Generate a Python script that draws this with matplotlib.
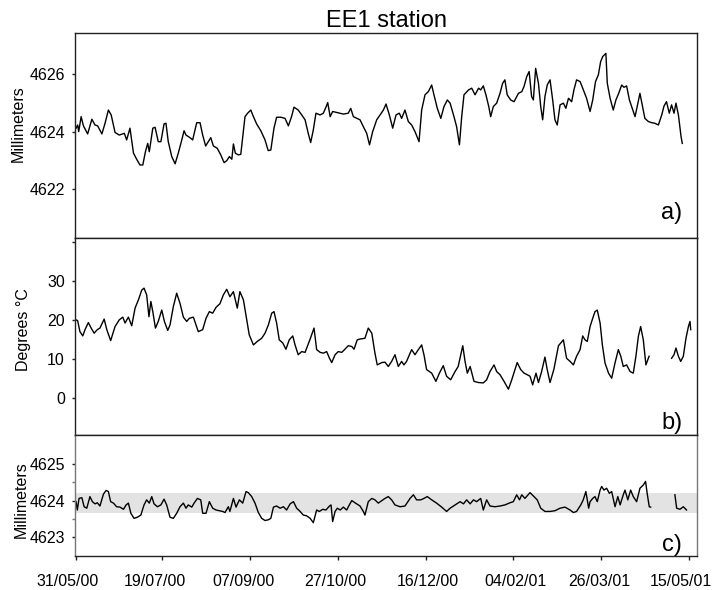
# EE1 station: three stacked panels sharing the date axis
from datetime import datetime

import numpy as np
import matplotlib
matplotlib.use('Agg')
import matplotlib.pyplot as plt
import matplotlib.transforms as mtransforms

plt.rcParams['font.family'] = ['Liberation Sans', 'DejaVu Sans']

# x tick labels (dd/mm/yy), data x values are days after the first label
date_labels = ['31/05/00', '19/07/00', '07/09/00', '27/10/00',
               '16/12/00', '04/02/01', '26/03/01', '15/05/01']

# a) position (mm)
a_day = [0, 0.9, 1.5, 2.9, 4.2, 6.6, 9.0, 10.8, 12.3, 14.7,
         16.5, 18.4, 20.0, 22.2, 24.6, 27.5, 28.8, 30.7, 32.7, 34.5,
         36.4, 38.0, 39.5, 40.8, 41.7, 43.7, 45.0, 46.8, 48.3, 50.1,
         51.2, 52.5, 54.5, 56.4, 58.2, 60.2, 61.5, 62.6, 63.9, 65.3,
         66.4, 68.7, 70.6, 72.1, 73.8, 75.3, 76.7, 78.2, 80.4, 82.4,
         84.3, 85.8, 87.3, 88.7, 89.6, 90.7, 92.4, 93.8, 96.2, 97.7,
         99.5, 101.0, 102.8, 105.2, 107.6, 109.4, 110.9, 112.7, 114.2, 116.6,
         119.0, 120.9, 122.8, 124.1, 126.5, 128.5, 130.4, 132.2, 133.6, 135.1,
         136.6, 139.0, 140.8, 142.3, 143.3, 144.7, 146.1, 148.8, 152.2, 155.0,
         156.4, 157.9, 161.7, 163.6, 165.5, 167.1, 168.9, 171.2, 173.1, 175.0,
         176.5, 178.4, 180.3, 182.2, 184.1, 185.4, 187.3, 189.2, 191.1, 193.0,
         195.3, 196.8, 198.7, 200.6, 202.5, 203.8, 205.7, 207.7, 209.5, 211.4,
         213.0, 215.2, 216.7, 218.3, 219.6, 220.9, 223.5, 225.3, 227.2, 229.2,
         230.4, 231.9, 233.4, 235.0, 236.1, 237.6, 239.5, 241.4, 242.9, 244.2,
         245.5, 247.5, 249.4, 251.9, 253.8, 255.1, 256.6, 258.0, 259.4, 260.4,
         261.7, 263.3, 264.6, 265.7, 267.0, 268.3, 269.9, 271.4, 272.7, 274.0,
         275.6, 277.5, 278.9, 280.4, 282.2, 283.5, 285.0, 287.0, 288.5, 290.7,
         292.7, 294.2, 295.8, 297.4, 298.7, 299.9, 301.7, 302.5, 304.1, 305.9,
         307.4, 309.0, 310.7, 312.0, 313.5, 315.1, 317.0, 318.3, 319.6, 321.1,
         322.6, 323.9, 325.9, 327.8, 329.6, 331.6, 333.5, 334.8, 336.2, 337.8,
         339.1, 340.5, 341.6, 343.0, 344.5, 345.2]
a_mm = [4624.12, 4624.23, 4624.00, 4624.52, 4624.20, 4623.92, 4624.43, 4624.23, 4624.20, 4623.92,
        4624.29, 4624.75, 4624.58, 4623.97, 4623.88, 4623.94, 4623.71, 4624.12, 4623.25, 4623.04,
        4622.84, 4622.84, 4623.30, 4623.59, 4623.30, 4624.12, 4624.15, 4623.65, 4623.65, 4624.27,
        4624.29, 4623.65, 4623.13, 4622.88, 4623.25, 4623.71, 4624.03, 4623.88, 4623.83, 4623.77,
        4623.71, 4624.31, 4624.31, 4623.88, 4623.50, 4623.65, 4623.79, 4623.50, 4623.42, 4623.19,
        4622.92, 4622.99, 4623.13, 4623.04, 4623.57, 4623.25, 4623.19, 4623.21, 4624.52, 4624.64,
        4624.75, 4624.52, 4624.27, 4624.03, 4623.71, 4623.34, 4623.36, 4624.12, 4624.50, 4624.50,
        4624.46, 4624.20, 4624.54, 4624.85, 4624.75, 4624.58, 4624.41, 4623.94, 4623.62, 4624.06,
        4624.64, 4624.58, 4624.64, 4624.85, 4625.01, 4624.52, 4624.70, 4624.66, 4624.61, 4624.64,
        4624.81, 4624.52, 4624.41, 4624.17, 4623.94, 4623.54, 4624.00, 4624.41, 4624.58, 4624.75,
        4624.96, 4624.58, 4624.12, 4624.58, 4624.64, 4624.46, 4624.75, 4624.35, 4624.23, 4624.00,
        4623.65, 4624.75, 4625.28, 4625.39, 4625.62, 4625.28, 4624.81, 4624.46, 4624.87, 4625.10,
        4624.99, 4624.52, 4624.17, 4623.54, 4624.52, 4625.28, 4625.45, 4625.51, 4625.28, 4625.51,
        4625.45, 4625.59, 4625.28, 4624.87, 4624.52, 4624.87, 4624.99, 4625.33, 4625.68, 4625.80,
        4625.28, 4625.10, 4625.04, 4625.33, 4625.39, 4625.57, 4625.91, 4626.09, 4625.22, 4625.10,
        4626.20, 4625.68, 4624.87, 4624.41, 4625.22, 4625.62, 4625.80, 4625.10, 4624.41, 4624.23,
        4624.93, 4624.99, 4624.81, 4625.16, 4625.04, 4625.45, 4625.80, 4625.74, 4625.51, 4625.16,
        4624.70, 4625.10, 4625.74, 4625.97, 4626.43, 4626.61, 4626.72, 4625.68, 4625.16, 4624.75,
        4625.10, 4625.33, 4625.62, 4625.54, 4625.59, 4625.10, 4624.75, 4624.52, 4624.89, 4625.33,
        4624.87, 4624.46, 4624.35, 4624.31, 4624.29, 4624.23, 4624.58, 4624.89, 4625.04, 4624.64,
        4624.93, 4624.64, 4624.99, 4624.58, 4623.83, 4623.59]

# b) temperature (deg C), nan = missing record
b_day = [0, 0.9, 2.2, 3.8, 5.1, 7.0, 8.6, 10.3, 12.1, 13.6,
         16.0, 17.5, 19.7, 22.2, 24.6, 26.6, 27.9, 29.8, 31.7, 33.6,
         35.5, 37.4, 38.7, 40.2, 41.5, 42.6, 43.7, 45.2, 46.8, 48.8,
         50.3, 52.2, 53.5, 55.4, 57.3, 59.2, 61.1, 63.0, 64.5, 66.8,
         68.3, 69.6, 72.1, 74.0, 75.9, 77.8, 79.7, 81.9, 83.9, 85.8,
         87.6, 89.6, 90.5, 91.8, 93.3, 95.3, 97.2, 98.6, 101.0, 103.2,
         105.7, 107.6, 109.5, 111.4, 112.7, 114.2, 115.7, 117.7, 119.5, 121.4,
         123.4, 124.7, 126.5, 128.5, 130.4, 133.3, 135.5, 137.0, 139.0, 140.8,
         142.7, 144.3, 145.6, 147.5, 149.3, 151.3, 153.1, 155.0, 157.0, 158.3,
         160.1, 161.7, 164.5, 166.4, 168.4, 170.2, 171.5, 174.1, 175.9, 177.8,
         179.7, 181.6, 183.5, 185.4, 186.7, 188.2, 190.2, 191.1, 193.0, 194.9,
         196.8, 198.1, 199.6, 202.5, 204.9, 206.9, 209.1, 211.0, 213.3, 215.8,
         217.6, 220.2, 221.5, 222.8, 224.4, 226.6, 229.1, 231.9, 233.8, 235.7,
         238.0, 239.5, 241.4, 243.7, 246.2, 248.1, 249.9, 251.2, 253.2, 255.1,
         256.9, 258.5, 260.0, 261.9, 263.3, 265.1, 267.0, 268.3, 269.9, 272.1,
         274.7, 276.0, 277.5, 279.3, 281.3, 283.2, 285.0, 287.0, 288.5, 289.8,
         291.1, 292.7, 294.2, 295.5, 296.8, 298.4, 299.7, 301.2, 303.2, 305.0,
         306.9, 308.8, 310.2, 311.6, 313.5, 315.5, 317.3, 318.8, 320.2, 321.5,
         323.0, 324.5, 326.3, 332.0, 339.1, 340.5, 341.6, 343.0, 344.3, 345.8,
         347.3, 348.7, 349.6, 350.0]
b_degc = [20.0, 19.8, 17.0, 15.9, 17.5, 19.3, 17.9, 16.6, 17.5, 17.9,
          20.2, 17.5, 14.7, 18.3, 20.0, 20.7, 19.2, 20.7, 18.5, 23.0,
          25.1, 27.6, 28.1, 26.4, 20.8, 24.7, 22.1, 17.9, 19.6, 22.5,
          19.6, 17.3, 18.7, 23.4, 26.8, 24.2, 20.7, 19.6, 20.4, 20.7,
          18.7, 17.0, 17.5, 20.4, 22.1, 21.7, 23.2, 24.1, 26.4, 27.8,
          25.9, 27.2, 25.5, 23.0, 27.2, 25.1, 20.0, 16.2, 13.6, 14.5,
          15.3, 16.6, 18.7, 21.7, 22.1, 19.2, 14.9, 14.1, 12.5, 14.9,
          15.9, 13.6, 11.1, 11.9, 11.7, 15.1, 17.9, 12.4, 11.7, 11.5,
          11.9, 10.2, 9.1, 11.1, 11.9, 11.7, 12.5, 13.4, 13.2, 12.5,
          14.9, 15.1, 15.3, 17.9, 16.6, 11.5, 8.5, 9.1, 9.2, 8.1,
          9.4, 11.1, 8.1, 9.4, 8.5, 9.4, 11.5, 12.4, 11.1, 12.4,
          13.6, 11.1, 7.3, 6.4, 4.3, 6.4, 8.3, 5.6, 4.7, 6.8,
          8.1, 13.4, 9.4, 6.4, 8.1, 4.3, 4.0, 3.9, 4.7, 6.8,
          8.5, 6.8, 6.0, 4.3, 2.3, 4.7, 7.3, 9.1, 7.3, 6.4,
          6.0, 5.6, 3.4, 6.4, 4.0, 6.8, 10.5, 7.3, 4.0, 7.4,
          13.4, 14.1, 14.9, 10.2, 9.4, 8.5, 10.7, 12.4, 15.9, 14.9,
          14.5, 18.3, 20.4, 22.1, 22.5, 19.2, 13.6, 9.0, 6.4, 5.1,
          9.0, 12.4, 10.7, 8.1, 8.5, 6.8, 6.4, 10.7, 15.8, 18.3,
          14.9, 8.5, 10.7, np.nan, 10.2, 11.1, 12.8, 10.7, 9.4, 10.7,
          15.3, 18.3, 19.6, 17.5]

# c) corrected position (mm), nan = missing record
c_day = [0, 0.7, 1.7, 3.3, 4.6, 6.1, 7.9, 9.3, 10.8, 12.1,
         13.6, 15.6, 17.1, 18.4, 19.7, 21.3, 23.1, 25.0, 27.0, 28.5,
         29.8, 31.2, 33.0, 34.9, 36.9, 38.7, 40.2, 41.7, 43.1, 44.4,
         46.3, 48.3, 50.1, 51.6, 53.5, 55.4, 57.3, 59.2, 61.1, 62.6,
         63.9, 65.9, 67.2, 69.1, 71.0, 72.1, 74.0, 75.9, 77.8, 79.7,
         81.6, 83.5, 84.8, 86.7, 87.6, 89.6, 91.1, 93.0, 94.9, 96.8,
         98.1, 100.0, 101.9, 103.8, 105.7, 107.6, 109.5, 110.9, 112.4, 114.2,
         116.2, 118.1, 119.9, 121.9, 123.8, 125.6, 127.6, 129.4, 131.3, 133.3,
         135.1, 137.0, 138.5, 140.5, 142.3, 144.3, 145.2, 146.1, 147.5, 148.8,
         150.4, 152.2, 154.1, 155.6, 157.0, 158.8, 161.7, 163.6, 164.5, 166.4,
         168.4, 170.2, 172.1, 174.1, 175.9, 177.8, 179.7, 181.6, 184.5, 187.3,
         190.2, 192.1, 193.9, 196.3, 198.1, 200.0, 202.5, 205.3, 208.2, 211.0,
         213.0, 215.8, 218.7, 220.6, 222.4, 224.4, 226.3, 228.1, 230.4, 231.9,
         233.8, 235.7, 238.5, 241.4, 244.2, 247.1, 249.0, 250.9, 252.5, 253.8,
         255.6, 258.5, 260.8, 262.6, 264.6, 267.0, 269.9, 272.7, 275.6, 278.4,
         281.3, 283.2, 285.0, 287.4, 288.8, 290.3, 291.9, 292.7, 294.2, 295.5,
         296.8, 298.4, 299.3, 300.6, 302.1, 303.7, 305.0, 306.9, 308.5, 309.8,
         311.6, 312.6, 314.2, 315.8, 317.3, 319.2, 321.1, 323.0, 324.3, 325.2,
         326.4, 327.2, 334.0, 341.0, 342.0, 343.9, 345.8, 347.6]
c_mm = [4623.97, 4623.74, 4624.06, 4624.08, 4623.83, 4623.79, 4624.11, 4623.97, 4623.91, 4623.94,
        4623.85, 4624.18, 4624.28, 4624.25, 4623.97, 4623.93, 4623.83, 4623.82, 4623.76, 4623.88,
        4623.93, 4623.65, 4623.51, 4623.54, 4623.60, 4623.88, 4624.02, 4623.93, 4624.11, 4623.91,
        4623.83, 4623.88, 4624.04, 4623.88, 4623.54, 4623.51, 4623.65, 4623.83, 4623.93, 4623.79,
        4623.88, 4623.82, 4623.93, 4624.06, 4624.02, 4623.65, 4623.65, 4623.97, 4623.79, 4623.74,
        4623.72, 4623.70, 4623.67, 4623.83, 4623.70, 4624.06, 4623.82, 4624.02, 4623.93, 4624.25,
        4624.22, 4624.11, 4623.93, 4623.67, 4623.51, 4623.45, 4623.47, 4623.51, 4623.82, 4623.85,
        4623.79, 4623.83, 4623.74, 4623.91, 4623.97, 4623.79, 4623.70, 4623.60, 4623.58, 4623.51,
        4623.39, 4623.74, 4623.70, 4623.76, 4623.74, 4623.85, 4623.88, 4623.42, 4623.70, 4623.79,
        4623.74, 4623.82, 4623.74, 4623.88, 4624.00, 4623.94, 4623.85, 4623.70, 4623.60, 4623.97,
        4624.06, 4624.02, 4623.93, 4624.00, 4624.06, 4624.11, 4624.02, 4623.88, 4623.83, 4623.85,
        4624.06, 4624.16, 4624.02, 4624.02, 4624.06, 4624.11, 4624.02, 4623.93, 4623.82, 4623.70,
        4623.79, 4623.88, 4623.97, 4623.91, 4624.02, 4623.91, 4624.02, 4623.97, 4624.06, 4623.74,
        4624.02, 4623.85, 4623.83, 4623.85, 4623.88, 4623.94, 4623.97, 4624.16, 4624.02, 4624.16,
        4624.06, 4624.22, 4624.11, 4624.02, 4623.79, 4623.70, 4623.70, 4623.72, 4623.79, 4623.82,
        4623.74, 4623.67, 4623.70, 4623.88, 4624.02, 4624.25, 4623.79, 4623.97, 4624.06, 4624.11,
        4623.97, 4624.29, 4624.39, 4624.29, 4624.34, 4624.20, 4624.25, 4623.83, 4624.11, 4623.88,
        4624.16, 4624.29, 4624.02, 4624.29, 4624.11, 4623.97, 4624.34, 4624.43, 4624.53, 4624.20,
        4623.83, 4623.82, np.nan, 4624.16, 4623.79, 4623.76, 4623.83, 4623.74]

# shaded band in c)
band_low, band_high = 4623.67, 4624.20

start = datetime.strptime(date_labels[0], '%d/%m/%y')
tick_days = [(datetime.strptime(s, '%d/%m/%y') - start).days for s in date_labels]

# figure + three stacked axes (no gaps)
fig = plt.figure(figsize=(7.13, 5.90), dpi=100)
left, width = 0.1052, 0.8724
ax_a = fig.add_axes([left, 0.5966, width, 0.3475])
ax_b = fig.add_axes([left, 0.2627, width, 0.3339])
ax_c = fig.add_axes([left, 0.0576, width, 0.2051])

ax_a.plot(a_day, a_mm, color='black', lw=1.0)
ax_b.plot(b_day, b_degc, color='black', lw=1.0)
ax_c.axhspan(band_low, band_high, color='#e3e3e3', lw=0, zorder=0)
ax_c.plot(c_day, c_mm, color='black', lw=1.0)

for ax in (ax_a, ax_b, ax_c):
    ax.set_xlim(-0.6, 353.6)
    ax.set_xticks(tick_days)
    for s in ax.spines.values():
        s.set_color('#222222')
        s.set_linewidth(1.0)
    ax.tick_params(axis='y', direction='out', length=2.5, width=1.0,
                   color='#222222', labelsize=11.5, pad=4.8)

ax_c.spines['left'].set_color('#777777')
ax_c.spines['right'].set_color('#777777')

ax_a.tick_params(axis='x', bottom=False, labelbottom=False)
ax_b.tick_params(axis='x', bottom=False, labelbottom=False)
ax_c.set_xticklabels(date_labels)
ax_c.tick_params(axis='x', direction='out', length=2.7, width=1.0,
                 color='#222222', labelsize=11.5, pad=10)

# nudge date labels a little like the original (last one kept inside)
label_shift_px = [-8, -7, -6, -2, 2, 2, -2, -8]
for lbl, dx in zip(ax_c.get_xticklabels(), label_shift_px):
    lbl.set_transform(lbl.get_transform() +
                      mtransforms.ScaledTranslation(dx / 100, 0, fig.dpi_scale_trans))

# y scales
ax_a.set_ylim(4620.3, 4627.43)
ax_a.set_yticks([4622, 4624, 4626])

ax_b.set_ylim(-9.4, 40.9)
ax_b.set_yticks([0, 10, 20, 30, 40])
ax_b.set_yticklabels(['0', '10', '20', '30', ''])

ax_c.set_ylim(4622.47, 4625.81)
ax_c.set_yticks([4623, 4624, 4625])
ax_c.set_yticks([4623.5, 4624.5], minor=True)
ax_c.tick_params(axis='y', which='minor', direction='out', length=2.5,
                 width=1.0, color='#777777')

# axis labels (coords give the right edge of the rotated text)
ax_a.set_ylabel('Millimeters', fontsize=11.5)
ax_a.yaxis.set_label_coords(-0.079, 0.559)
ax_b.set_ylabel('Degrees °C', fontsize=11.5)
ax_b.yaxis.set_label_coords(-0.070, 0.533)
ax_c.set_ylabel('Millimeters', fontsize=11.5)
ax_c.yaxis.set_label_coords(-0.074, 0.47)

# panel letters
ax_a.text(0.976, 0.093, 'a)', transform=ax_a.transAxes, ha='right', va='baseline', fontsize=17)
ax_b.text(0.976, 0.03, 'b)', transform=ax_b.transAxes, ha='right', va='baseline', fontsize=17)
ax_c.text(0.976, 0.044, 'c)', transform=ax_c.transAxes, ha='right', va='baseline', fontsize=17)

fig.text(0.5414, 0.9636, 'EE1 station', ha='center', va='center', fontsize=17)

fig.savefig('out.png', dpi=100)
